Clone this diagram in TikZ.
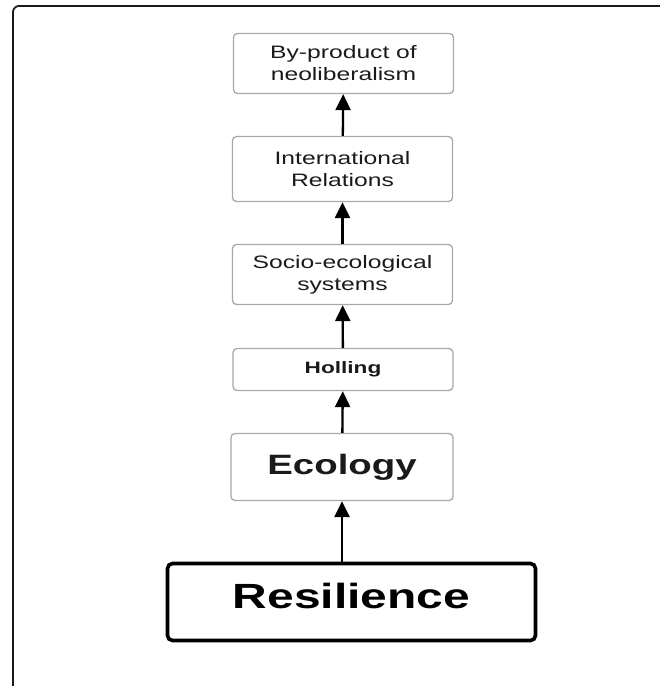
\documentclass[tikz,border=0pt]{standalone}
\usepackage{fontspec}
\setmainfont[FakeStretch=1.37]{Liberation Sans}
\usetikzlibrary{arrows.meta}
\definecolor{boxgray}{HTML}{A8A8A8}
\definecolor{ink}{HTML}{1A1A1A}
\tikzset{
  block/.style={draw=boxgray, line width=1.3pt, rounded corners=4pt, inner sep=0pt,
    minimum width=220pt, align=center, text=ink, font=\fontsize{18}{22}\selectfont},
  mainblock/.style={draw=black, line width=3.6pt, rounded corners=5pt, inner sep=0pt,
    minimum width=368pt, minimum height=77pt, text depth=12pt,
    font=\fontsize{35}{40}\selectfont\bfseries},
  link/.style={line width=2.3pt, -{Triangle[length=16pt,width=15pt]}}
}
\begin{document}
\begin{tikzpicture}[x=1pt,y=1pt]
\useasboundingbox (0,0) rectangle (660,686);
% Frame
\draw[ink, line width=1.8pt, rounded corners=6pt] (13,-10) -- (13,680) -- (670,680);

% Boxes
\node[block, minimum height=60pt] (byprod) at (343.5,622.5) {By-product of\\neoliberalism};
\node[block, minimum height=65pt] (intrel) at (342.5,517) {International\\Relations};
\node[block, minimum height=60pt] (socio) at (342.5,411.5) {Socio-ecological\\systems};
\node[block, minimum height=42pt, font=\fontsize{16.5}{20}\selectfont\bfseries] (holling) at (343,316.5) {Holling};
\node[block, minimum height=67pt, minimum width=222pt, font=\fontsize{28}{32}\selectfont\bfseries] (ecol) at (342,219) {Ecology};
\node[mainblock] (resil) at (351.5,84) {Resilience};

% Arrows
\draw[link] (ecol.south |- resil.north) -- (ecol.south);
\draw[link] (ecol) -- (holling);
\draw[link] (holling) -- (socio);
\draw[link] (socio) -- (intrel);
\draw[link] (intrel) -- (byprod);

\end{tikzpicture}
\end{document}
